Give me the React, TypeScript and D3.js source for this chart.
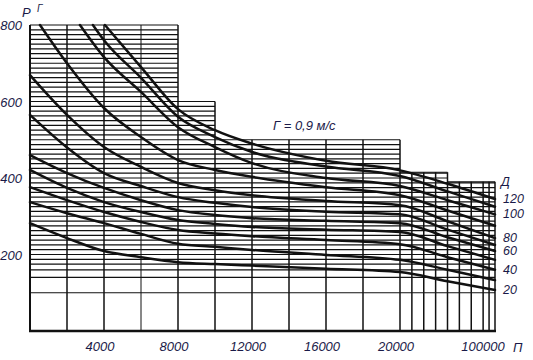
import React from "react";
import * as d3 from "d3";

// ---- data ----
const D_VALUES = [120, 110, 100, 90, 80, 70, 60, 50, 40, 30, 20];
const D_LABELS = [120, 100, 80, 60, 40, 20];

const SERIES_120: [number, number][] = [[4050, 800], [6000, 690], [8000, 580], [10000, 525], [12000, 490], [16000, 445], [20000, 420], [60000, 385], [100000, 345]];
const SERIES_110: [number, number][] = [[3400, 800], [4000, 760], [6000, 662], [8000, 560], [10000, 507], [12000, 468], [16000, 430], [20000, 405], [60000, 365], [100000, 325]];
const SERIES_100: [number, number][] = [[2700, 800], [4000, 716], [6000, 625], [8000, 533], [10000, 481], [12000, 439], [16000, 400], [20000, 379], [60000, 342], [100000, 305]];
const SERIES_90: [number, number][] = [[540, 800], [2000, 700], [4000, 583], [6000, 507], [8000, 447], [10000, 421], [12000, 403], [16000, 376], [20000, 355], [60000, 315], [100000, 275]];
const SERIES_80: [number, number][] = [[0, 669], [2000, 565], [4000, 481], [6000, 429], [8000, 387], [10000, 368], [12000, 355], [16000, 340], [20000, 329], [60000, 287], [100000, 243]];
const SERIES_70: [number, number][] = [[0, 565], [2000, 480], [4000, 413], [6000, 379], [8000, 350], [10000, 335], [12000, 324], [16000, 312], [20000, 305], [60000, 265], [100000, 225]];
const SERIES_60: [number, number][] = [[0, 460], [2000, 413], [4000, 374], [6000, 342], [8000, 316], [10000, 303], [12000, 295], [16000, 288], [20000, 282], [60000, 245], [100000, 209]];
const SERIES_50: [number, number][] = [[0, 421], [2000, 374], [4000, 337], [6000, 311], [8000, 290], [10000, 280], [12000, 272], [16000, 265], [20000, 259], [60000, 222], [100000, 186]];
const SERIES_40: [number, number][] = [[0, 376], [2000, 342], [4000, 311], [6000, 285], [8000, 264], [10000, 255], [12000, 248], [16000, 238], [20000, 227], [60000, 193], [100000, 160]];
const SERIES_30: [number, number][] = [[0, 337], [2000, 308], [4000, 282], [6000, 254], [8000, 228], [10000, 220], [12000, 212], [16000, 199], [20000, 186], [60000, 160], [100000, 133]];
const SERIES_20: [number, number][] = [[0, 282], [2000, 243], [4000, 209], [6000, 193], [8000, 180], [10000, 175], [12000, 171], [16000, 163], [20000, 154], [60000, 130], [100000, 107]];

const SERIES = [SERIES_120, SERIES_110, SERIES_100, SERIES_90, SERIES_80, SERIES_70, SERIES_60, SERIES_50, SERIES_40, SERIES_30, SERIES_20];

const X_GRID = [0, 2000, 4000, 6000, 8000, 10000, 12000, 14000, 16000, 18000, 20000, 30000, 40000, 50000, 60000, 70000, 80000, 90000, 95000, 100000];
const X_TICKS = [4000, 8000, 12000, 16000, 20000, 100000];
const Y_TICKS = [200, 400, 600, 800];
const BLOCK_EDGES = [0, 8000, 10000, 20000, 60000, 100000];
const BLOCK_TOPS = [800, 600, 500, 415, 390];
const H_GRID = [100, 140, 160, ...d3.range(175, 800.1, 12.5)];

const W = 533;
const H = 360;
const INK = "#111";
const TEXT = "#1a1a48";
const FONT = "'Liberation Sans', Arial, sans-serif";

const xLeft = d3.scaleLinear().domain([0, 20000]).range([30, 400]);
const xRight = d3.scaleLinear().domain([20000, 100000]).range([400, 495]);
const x = (n: number) => (n <= 20000 ? xLeft(n) : xRight(n));
const y = d3.scaleLinear().domain([0, 800]).range([331, 25]);

const line = d3
  .line<[number, number]>()
  .x((d) => x(d[0]))
  .y((d) => y(d[1]))
  .curve(d3.curveMonotoneX);

function topAt(n: number) {
  let t = 0;
  for (let i = 0; i < BLOCK_TOPS.length; i++) {
    if (n >= BLOCK_EDGES[i] - 1e-6 && n <= BLOCK_EDGES[i + 1] + 1e-6) t = Math.max(t, BLOCK_TOPS[i]);
  }
  return t;
}

export default function App() {
  const hLines: JSX.Element[] = [];
  BLOCK_TOPS.forEach((top, i) => {
    const x0 = x(BLOCK_EDGES[i]);
    const x1 = x(BLOCK_EDGES[i + 1]);
    const vals = H_GRID.filter((h) => h <= top + 1e-6);
    if (!vals.includes(top)) vals.push(top);
    vals.forEach((h, j) => {
      hLines.push(
        <line key={`h${i}-${j}`} x1={x0} x2={x1} y1={y(h)} y2={y(h)} stroke={INK} strokeWidth={1.2} />
      );
    });
  });

  return (
    <svg width={W} height={H} style={{ position: "absolute", left: 0, top: 0, background: "#fff" }}>
      <rect x={0} y={0} width={W} height={H} fill="#fff" />
      <g>{hLines}</g>
      <g>
        {X_GRID.map((n) => (
          <line
            key={`v${n}`}
            x1={x(n)}
            x2={x(n)}
            y1={y(0)}
            y2={y(topAt(n))}
            stroke={INK}
            strokeWidth={n === 6000 ? 1 : 1.5}
          />
        ))}
      </g>
      {/* axes */}
      <line x1={x(0)} x2={x(0)} y1={y(0) + 1} y2={y(800)} stroke={INK} strokeWidth={2} />
      <line x1={x(0) - 1} x2={x(100000) + 1} y1={y(0)} y2={y(0)} stroke={INK} strokeWidth={2.5} />
      {/* curves */}
      <g fill="none" stroke={INK} strokeWidth={2.5} strokeLinecap="round">
        {SERIES.map((s, i) => (
          <path key={`c${D_VALUES[i]}`} d={line(s) || ""} />
        ))}
      </g>
      {/* y tick labels */}
      <g fontFamily={FONT} fontStyle="italic" fontSize={13} fill={TEXT} textAnchor="end">
        {Y_TICKS.map((v) => (
          <text key={`yt${v}`} x={22} y={y(v) + 5}>
            {v}
          </text>
        ))}
      </g>
      <text x={22} y={17} fontFamily={FONT} fontStyle="italic" fontSize={13} fill={TEXT}>
        Р
      </text>
      <text x={37} y={12} fontFamily={FONT} fontStyle="italic" fontSize={10} fill={TEXT}>
        Г
      </text>
      {/* x tick labels */}
      <g fontFamily={FONT} fontStyle="italic" fontSize={13} fill={TEXT} textAnchor="middle">
        {X_TICKS.map((n) => (
          <text key={`xt${n}`} x={n === 100000 ? x(n) - 12 : x(n) - 4} y={351}>
            {n}
          </text>
        ))}
      </g>
      <text x={513} y={352} fontFamily={FONT} fontStyle="italic" fontSize={13} fill={TEXT}>
        П
      </text>
      {/* annotation */}
      <text x={273} y={130} fontFamily={FONT} fontStyle="italic" fontSize={13} fill={TEXT}>
        Г = 0,9 м/с
      </text>
      {/* D labels */}
      <text x={501} y={186} fontFamily={FONT} fontStyle="italic" fontSize={12.5} fill={TEXT}>
        Д
      </text>
      <g fontFamily={FONT} fontStyle="italic" fontSize={12.5} fill={TEXT}>
        {D_LABELS.map((dv) => {
          const s = SERIES[D_VALUES.indexOf(dv)];
          const last = s[s.length - 1];
          return (
            <text key={`dl${dv}`} x={503} y={y(last[1]) + 4}>
              {dv}
            </text>
          );
        })}
      </g>
    </svg>
  );
}
